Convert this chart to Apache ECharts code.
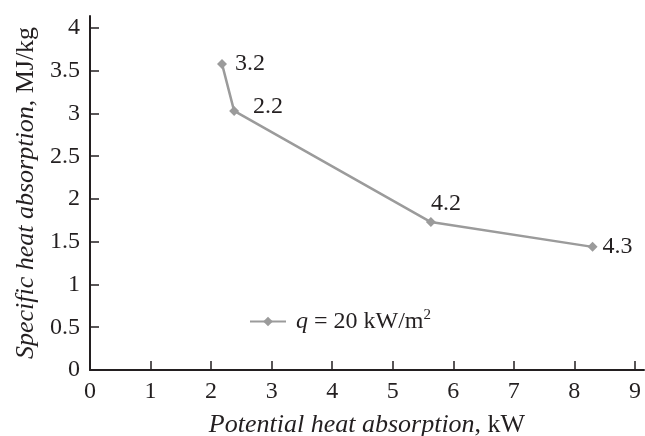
<!DOCTYPE html>
<html>
<head>
<meta charset="utf-8">
<script src="https://cdn.jsdelivr.net/npm/echarts@6/dist/echarts.min.js"></script>
<style>
  html, body { margin: 0; padding: 0; background: #fff; }
  #chart { width: 645px; height: 436px; }
</style>
</head>
<body>
<div id="chart"></div>
<script>
// data
const potentialHeat = [2.18, 2.38, 5.63, 8.3]
const specificHeat = [3.58, 3.03, 1.73, 1.44]
const pointLabels = ['3.2', '2.2', '4.2', '4.3']
const xTicks = [0, 1, 2, 3, 4, 5, 6, 7, 8, 9]
const yTicks = [0, 0.5, 1, 1.5, 2, 2.5, 3, 3.5, 4]
const seriesName = 'q = 20 kW/m2'

const font = 'Liberation Serif, Times New Roman, serif'
const ink = '#231f20'
const grey = '#9b9b9b'

// label placement per point (style, kept apart from data)
const labelStyle = [
  { position: 'right', offset: [3, 0] },
  { position: 'right', offset: [9, -4] },
  { position: 'top', offset: [15, 4] },
  { position: 'right', offset: [0, 0] }
]

const chart = echarts.init(document.getElementById('chart'))

const italicTitle = {
  fontFamily: font,
  fontSize: 26,
  color: ink,
  rich: { i: { fontFamily: font, fontSize: 26, fontStyle: 'italic', color: ink } }
}

chart.setOption({
  animation: false,
  backgroundColor: '#fff',
  grid: { left: 90, right: 1, top: 16, bottom: 66, outerBoundsMode: 'none', containLabel: false },
  legend: {
    left: 244,
    top: 303,
    itemWidth: 36,
    itemHeight: 12,
    itemGap: 0,
    data: [seriesName],
    formatter: () => '{i|q} = 20 kW/m{sup|2}',
    textStyle: {
      fontFamily: font,
      fontSize: 24,
      color: ink,
      padding: [0, 0, 0, 5],
      rich: {
        i: { fontFamily: font, fontSize: 24, fontStyle: 'italic', color: ink },
        sup: { fontFamily: font, fontSize: 15, color: ink, verticalAlign: 'bottom', padding: [0, 0, 12, 0] }
      }
    }
  },
  xAxis: {
    type: 'value',
    min: 0,
    max: 9.15,
    name: '{i|Potential heat absorption}, kW',
    nameLocation: 'middle',
    nameGap: 42,
    nameTextStyle: italicTitle,
    axisLine: { lineStyle: { color: ink, width: 2 } },
    axisTick: { inside: true, length: 9, customValues: xTicks, lineStyle: { color: ink, width: 1.5 } },
    axisLabel: { customValues: xTicks, fontFamily: font, fontSize: 24, color: ink, margin: 10 },
    splitLine: { show: false }
  },
  yAxis: {
    type: 'value',
    min: 0,
    max: 4.14,
    name: '{i|Specific heat absorption}, MJ/kg',
    nameLocation: 'middle',
    nameGap: 50,
    nameTextStyle: italicTitle,
    axisLine: { show: true, lineStyle: { color: ink, width: 2 } },
    axisTick: { show: true, inside: true, length: 9, customValues: yTicks, lineStyle: { color: ink, width: 1.5 } },
    axisLabel: { customValues: yTicks, fontFamily: font, fontSize: 24, color: ink, margin: 10 },
    splitLine: { show: false }
  },
  series: [
    {
      name: seriesName,
      type: 'line',
      symbol: 'diamond',
      symbolSize: 10,
      color: grey,
      lineStyle: { color: grey, width: 2.5 },
      itemStyle: { color: grey },
      label: {
        show: true,
        fontFamily: font,
        fontSize: 24,
        color: ink
      },
      data: potentialHeat.map((x, i) => ({
        value: [x, specificHeat[i]],
        label: { formatter: pointLabels[i], ...labelStyle[i] }
      }))
    }
  ]
})
</script>
</body>
</html>
